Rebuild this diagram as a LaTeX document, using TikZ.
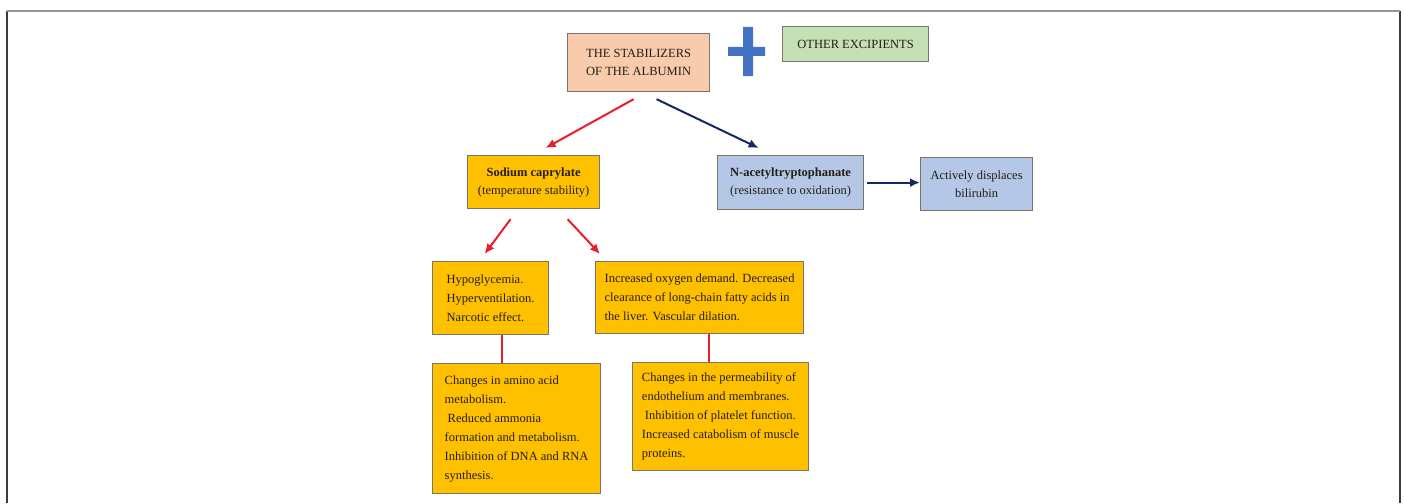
\documentclass[tikz,border=0pt]{standalone}
\usepackage{fontspec}
\setmainfont{Liberation Serif}
\usepackage{xcolor}
\definecolor{boxGold}{RGB}{255, 192, 0}
\definecolor{boxSalmon}{RGB}{248, 203, 173}
\definecolor{boxGreen}{RGB}{197, 224, 180}
\definecolor{boxBlue}{RGB}{180, 199, 231}
\definecolor{boxEdge}{RGB}{120, 118, 105}
\definecolor{plusBlue}{RGB}{68, 114, 196}
\definecolor{arrowRed}{RGB}{232, 30, 40}
\definecolor{arrowNavy}{RGB}{20, 40, 100}
\definecolor{frameGrey}{RGB}{150, 150, 150}
\definecolor{frameDark}{RGB}{60, 60, 60}
\definecolor{textDark}{RGB}{35, 30, 20}
\usepackage{tikz}
\usetikzlibrary{positioning,shapes,calc,arrows.meta}

\tikzset{
  basebox/.style={draw=boxEdge, line width=1.2pt, anchor=north west, inner sep=0pt, text=textDark},
  titlebox/.style={basebox, align=center, font=\fontsize{12.5}{18}\selectfont},
  effectbox/.style={basebox, fill=boxGold, align=left, font=\fontsize{12.5}{19}\selectfont},
  redarrow/.style={draw=arrowRed, line width=2pt, -{Latex[length=10pt,width=9pt]}},
  navyarrow/.style={draw=arrowNavy, line width=2pt, -{Latex[length=10pt,width=9pt]}},
  redline/.style={draw=arrowRed, line width=1.5pt},
}

\begin{document}
\begin{tikzpicture}[x=1pt, y=-1pt]
\useasboundingbox (0,0) rectangle (1404,503);
% frame
\draw[frameDark, line width=1.5pt] (7,11) -- (7,503) (1400,11) -- (1400,503);
\draw[frameGrey, line width=1.5pt] (7,11) -- (1400,11);

% top row
\node[titlebox, fill=boxSalmon, minimum width=142pt, minimum height=58pt] (stab) at (567,33) {THE STABILIZERS\\OF THE ALBUMIN};
\fill[plusBlue] (743,27) rectangle (753,76) (728,47) rectangle (765,56);
\node[titlebox, fill=boxGreen, minimum width=146pt, minimum height=35pt] (excip) at (782,26) {OTHER EXCIPIENTS};

% stabilizers
\node[titlebox, fill=boxGold, minimum width=132pt, minimum height=53pt] (sodium) at (467,155) {\textbf{Sodium caprylate}\\(temperature stability)};
\node[titlebox, fill=boxBlue, minimum width=146pt, minimum height=54pt] (nacetyl) at (717,155) {\textbf{N-acetyltryptophanate}\\(resistance to oxidation)};
\node[titlebox, fill=boxBlue, minimum width=112pt, minimum height=53pt] (displace) at (920,157) {Actively displaces\\bilirubin};

% effects
\node[effectbox, minimum width=116pt, minimum height=73pt] (hypo) at (432,261) {Hypoglycemia.\\Hyperventilation.\\Narcotic effect.};
\node[effectbox, minimum width=208pt, minimum height=72pt] (incr) at (595,261) {Increased oxygen demand. Decreased\\clearance of long-chain fatty acids in\\the liver. Vascular dilation.};
\node[effectbox, minimum width=168pt, minimum height=130pt] (amino) at (432,363) {Changes in amino acid\\metabolism.\\\hspace{3pt}Reduced ammonia\\formation and metabolism.\\Inhibition of DNA and RNA\\synthesis.};
\node[effectbox, minimum width=176pt, minimum height=108pt] (perm) at (632,362) {Changes in the permeability of\\endothelium and membranes.\\\hspace{3pt}Inhibition of platelet function.\\Increased catabolism of muscle\\proteins.};

% connectors
\draw[redarrow] ($(stab.south)+(-5,7)$) -- ($(sodium.north)+(12,-7)$);
\draw[navyarrow] ($(stab.south)+(18,7)$) -- ($(nacetyl.north)+(-32,-7)$);
\draw[navyarrow] ($(nacetyl.east)+(3,0)$) -- (nacetyl.east -| displace.west);
\draw[redarrow] ($(sodium.south)+(-23,10)$) -- ($(hypo.north)+(-6,-7)$);
\draw[redarrow] ($(sodium.south)+(34,10)$) -- ($(incr.north west)+(5,-7)$);
\draw[redline] ($(hypo.south west)+(70,0)$) -- ($(amino.north west)+(70,0)$);
\draw[redline] ($(incr.south west)+(114,0)$) -- ($(perm.north west)+(77,0)$);
\end{tikzpicture}
\end{document}
